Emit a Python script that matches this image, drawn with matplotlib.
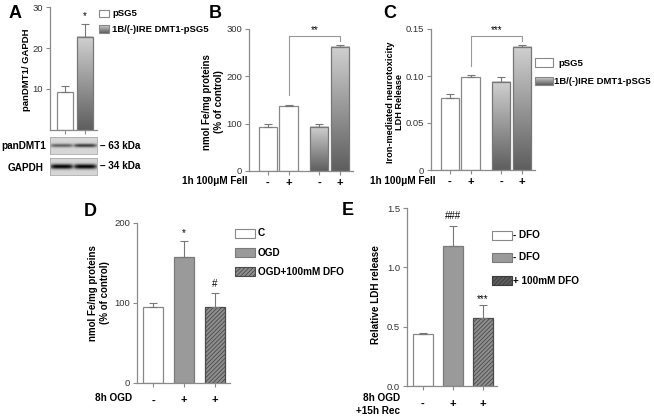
import numpy as np
import matplotlib
matplotlib.use('Agg')
import matplotlib.pyplot as plt
from matplotlib.colors import LinearSegmentedColormap
from matplotlib.patches import Rectangle

plt.rcParams['font.family'] = ['Liberation Sans', 'DejaVu Sans']
plt.rcParams['hatch.linewidth'] = 0.6

# ---- data ----
# A
a_groups = ['pSG5', '1B/(-)IRE DMT1-pSG5']
a_vals = [9.3, 22.7]
a_err = [1.4, 3.1]
a_ticks = [10, 20, 30]
# B
b_ticks = ['-', '+', '-', '+']
b_vals = [94, 138, 94, 262]
b_err = [6, 2, 6, 4]
# C
c_vals = [0.077, 0.099, 0.094, 0.131]
c_err = [0.004, 0.002, 0.005, 0.002]
# D
d_labels = ['C', 'OGD', 'OGD+100mM DFO']
d_ticks = ['-', '+', '+']
d_vals = [95, 158, 95]
d_err = [5, 20, 18]
# E
e_labels = ['- DFO', '- DFO', '+ 100mM DFO']
e_ticks = ['-', '+', '+']
e_vals = [0.44, 1.18, 0.57]
e_err = [0.01, 0.17, 0.11]

W, H = 654, 417
fig = plt.figure(figsize=(W / 100, H / 100), dpi=100)

SP = '#8a8a8a'
HATCH = '////////'
gcmap = LinearSegmentedColormap.from_list('g', ['#5e5e5e', '#d0d0d0'])


def px_axes(l, t, r, b):
    return fig.add_axes([l / W, 1 - b / H, (r - l) / W, (b - t) / H])


def style(ax):
    for s in ['top', 'right']:
        ax.spines[s].set_visible(False)
    for s in ['left', 'bottom']:
        ax.spines[s].set_color(SP)
        ax.spines[s].set_linewidth(0.9)
    ax.tick_params(colors=SP, labelcolor='#333333', labelsize=6.8, length=3, width=0.8)
    ax.tick_params(axis='y', pad=2)
    ax.tick_params(axis='x', labelsize=8, labelcolor='black')


def grad_bars(ax, bars):
    for bar in bars:
        x0, y0 = bar.get_x(), bar.get_y()
        ax.imshow(np.linspace(0, 1, 100).reshape(-1, 1), cmap=gcmap, origin='lower',
                  aspect='auto', zorder=1,
                  extent=[x0, x0 + bar.get_width(), y0, y0 + bar.get_height()])


def errs(ax, x, vals, err):
    ax.errorbar(x, vals, yerr=[np.zeros(len(vals)), err], fmt='none', ecolor='#777777',
                elinewidth=0.8, capsize=3, capthick=0.8, zorder=3)


def ftext(x, y, s, **kw):
    kw.setdefault('fontsize', 6.8)
    kw.setdefault('fontweight', 'bold')
    fig.text(x / W, 1 - y / H, s, **kw)


def swatch(l, t, r, b, fc='white', ec='#888888', hatch=None, grad=False):
    if grad:
        ax = px_axes(l, t, r, b)
        ax.imshow(np.linspace(0, 1, 50).reshape(-1, 1), cmap=gcmap, origin='lower', aspect='auto')
        ax.set_axis_off()
        fc = 'none'
    fig.add_artist(Rectangle((l / W, 1 - b / H), (r - l) / W, (b - t) / H, facecolor=fc,
                             edgecolor=ec, hatch=hatch, lw=0.8, transform=fig.transFigure))


# ---- panel A ----
axA = px_axes(50, 7, 97, 130)
style(axA)
xa = np.arange(len(a_vals))
axA.bar(xa[:1], a_vals[:1], 0.8, color='white', edgecolor='#888888', lw=0.9, zorder=2)
ba = axA.bar(xa[1:], a_vals[1:], 0.8, color='none', edgecolor='#777777', lw=0.9, zorder=2)
grad_bars(axA, ba)
errs(axA, xa, a_vals, a_err)
axA.text(1, a_vals[1] + a_err[1] + 1.2, '*', ha='center', fontsize=7)
axA.set_ylim(0, 30)
axA.set_xlim(-0.75, 1.6)
axA.set_yticks(a_ticks)
axA.set_xticks(xa)
axA.set_xticklabels([])
ftext(27, 70, 'panDMT1/ GAPDH', rotation=90, ha='center', va='center')
ftext(15, 13, 'A', fontsize=13, ha='center', va='center')
swatch(99, 10, 109, 17)
ftext(112, 14, a_groups[0], va='center')
swatch(99, 25, 109, 33, grad=True)
ftext(112, 29, a_groups[1], va='center')


def blot(rect, strength, width):
    ax = px_axes(*rect)
    y = np.linspace(-1, 1, 30)[:, None]
    x = np.linspace(0, 1, 90)[None, :]
    lane = np.where(x < 0.5, strength[0], strength[1])
    shape = np.exp(-(((x % 0.5) - 0.25) / 0.23) ** 6)
    img = 0.84 - lane * np.exp(-(y / width) ** 2) * (0.3 + 0.7 * shape)
    ax.imshow(img, cmap='gray', vmin=0, vmax=1, aspect='auto')
    ax.set_xticks([])
    ax.set_yticks([])
    for s in ax.spines.values():
        s.set_color('#aaaaaa')
        s.set_linewidth(0.6)


blot((50, 137, 97, 154), [0.45, 0.6], 0.22)
blot((50, 158, 97, 175), [0.82, 0.82], 0.3)
ftext(46, 146, 'panDMT1', ha='right', va='center', fontsize=7.2)
ftext(26, 168, 'GAPDH', ha='center', va='center', fontsize=7.2)
ftext(100, 146, '\u2013 63 kDa', va='center', fontsize=7.2)
ftext(100, 166, '\u2013 34 kDa', va='center', fontsize=7.2)

# ---- panels B and C ----
xbc = np.array([0, 1, 2.5, 3.5])


def panel_bc(rect, vals, err, ylim, ticks, tickfmt, stars, gap):
    ax = px_axes(*rect)
    style(ax)
    ax.bar(xbc[:2], vals[:2], 0.88, color='white', edgecolor='#888888', lw=0.9, zorder=2)
    bb = ax.bar(xbc[2:], vals[2:], 0.88, color='none', edgecolor='#777777', lw=0.9, zorder=2)
    grad_bars(ax, bb)
    errs(ax, xbc, vals, err)
    top = vals[3] + err[3] + gap * 2
    ax.plot([xbc[1], xbc[1], xbc[3], xbc[3]],
            [vals[1] + err[1] + gap * 2, top, top, vals[3] + err[3] + gap * 0.8],
            color='#999999', lw=0.8, zorder=3)
    ax.text((xbc[1] + xbc[3]) / 2, top + gap * 0.6, stars, ha='center', fontsize=7)
    ax.set_ylim(*ylim)
    ax.set_xlim(-0.92, 4.13)
    ax.set_yticks(ticks)
    ax.set_yticklabels([tickfmt(t) for t in ticks])
    ax.set_xticks(xbc)
    ax.set_xticklabels(b_ticks, fontweight='bold')
    ax.tick_params(axis='x', pad=2)
    return ax


panel_bc((249, 29, 353, 171), b_vals, b_err, (0, 300), [0, 100, 200, 300],
         lambda t: '%d' % t, '**', 10)
ftext(215, 13, 'B', fontsize=13, ha='center', va='center')
ftext(213, 102, 'nmol Fe/mg proteins\n(% of control)', rotation=90, ha='center',
      va='center', multialignment='center', fontsize=7)
ftext(248, 181, '1h 100\u03bcM FeII', ha='right', va='center', fontsize=7.2)

panel_bc((431, 29, 535, 170), c_vals, c_err, (0, 0.15), [0, 0.05, 0.10, 0.15],
         lambda t: '0' if t == 0 else '%.2f' % t, '***', 0.005)
ftext(390, 13, 'C', fontsize=13, ha='center', va='center')
ftext(395, 102, 'Iron-mediated neurotoxicity\nLDH Release', rotation=90, ha='center',
      va='center', multialignment='center', fontsize=6.6, linespacing=1.0)
ftext(436, 181, '1h 100\u03bcM FeII', ha='right', va='center', fontsize=7.2)
swatch(535, 58, 553, 67)
ftext(558, 63, a_groups[0], va='center')
swatch(535, 77, 553, 85, grad=True)
ftext(554, 81, a_groups[1], va='center')

# ---- panels D and E ----
xde = np.arange(3)


def panel_de(rect, vals, err, ylim, ticks, tickfmt, ticklabels, xlim):
    ax = px_axes(*rect)
    style(ax)
    ax.bar(xde[0], vals[0], 0.66, color='white', edgecolor='#888888', lw=0.9, zorder=2)
    ax.bar(xde[1], vals[1], 0.66, color='#9a9a9a', edgecolor='#7a7a7a', lw=0.9, zorder=2)
    ax.bar(xde[2], vals[2], 0.66, color='#8e8e8e', edgecolor='#4a4a4a', hatch=HATCH,
           lw=0.9, zorder=2)
    errs(ax, xde, vals, err)
    ax.set_ylim(*ylim)
    ax.set_xlim(*xlim)
    ax.set_yticks(ticks)
    ax.set_yticklabels([tickfmt(t) for t in ticks])
    ax.set_xticks(xde)
    ax.set_xticklabels(ticklabels, fontweight='bold')
    ax.tick_params(axis='x', pad=6)
    return ax


axD = panel_de((137, 223, 230, 383), d_vals, d_err, (0, 200), [0, 100, 200],
               lambda t: '%d' % t, d_ticks, (-0.52, 2.48))
axD.text(1, d_vals[1] + d_err[1] + 6, '*', ha='center', fontsize=7)
axD.text(2, d_vals[2] + d_err[2] + 7, '#', ha='center', fontsize=7)
ftext(90, 212, 'D', fontsize=13, ha='center', va='center')
ftext(99, 293, 'nmol Fe/mg proteins\n(% of control)', rotation=90, ha='center',
      va='center', multialignment='center', fontsize=7)
ftext(132, 398, '8h OGD', ha='right', va='center', fontsize=7.2)
swatch(235, 229, 255, 238)
ftext(258, 233, d_labels[0], va='center', fontsize=7.2)
swatch(235, 248, 255, 257, fc='#9a9a9a', ec='#7a7a7a')
ftext(258, 253, d_labels[1], va='center', fontsize=7.2)
swatch(235, 267, 255, 276, fc='#8e8e8e', ec='#4a4a4a', hatch=HATCH)
ftext(258, 272, d_labels[2], va='center', fontsize=7.2)

axE = panel_de((407, 208, 497, 386), e_vals, e_err, (0, 1.5), [0, 0.5, 1.0, 1.5],
               lambda t: '%.1f' % t, e_ticks, (-0.53, 2.47))
axE.text(1, e_vals[1] + e_err[1] + 0.06, '###', ha='center', fontsize=7)
axE.text(2, e_vals[2] + e_err[2] + 0.03, '***', ha='center', fontsize=7)
ftext(348, 211, 'E', fontsize=13, ha='center', va='center')
ftext(376, 295, 'Relative LDH release', rotation=90, ha='center', va='center',
      fontsize=7.2)
ftext(400, 398, '8h OGD', ha='right', va='center', fontsize=7.2)
ftext(400, 411, '+15h Rec', ha='right', va='center', fontsize=7.2)
swatch(492, 231, 512, 240)
ftext(513, 235, e_labels[0], va='center', fontsize=7.2)
swatch(492, 253, 512, 262, fc='#9a9a9a', ec='#7a7a7a')
ftext(513, 257, e_labels[1], va='center', fontsize=7.2)
swatch(492, 276, 512, 285, fc='#5e5e5e', ec='#3a3a3a', hatch=HATCH)
ftext(513, 281, e_labels[2], va='center', fontsize=7.2)

fig.savefig('out.png', dpi=100)
